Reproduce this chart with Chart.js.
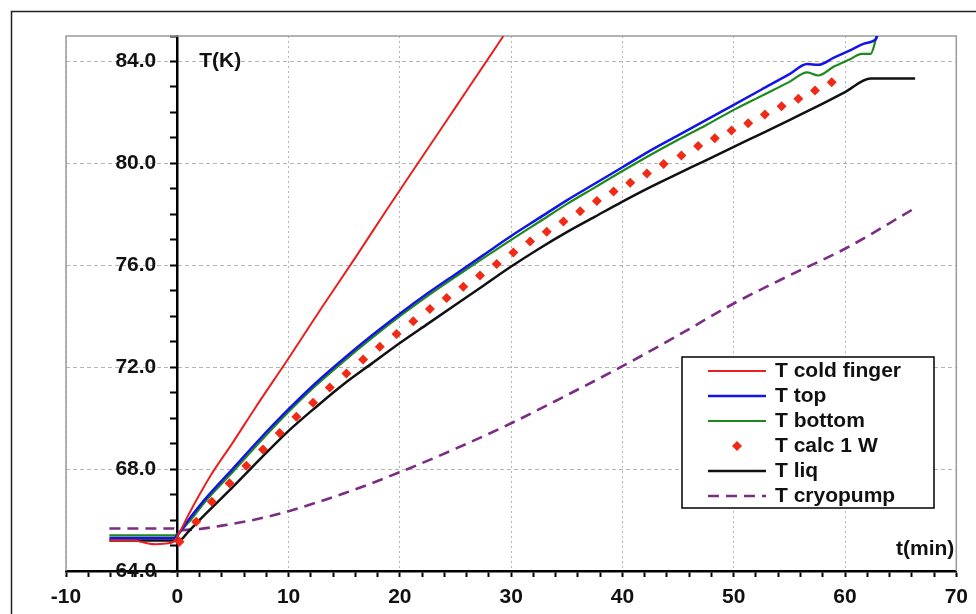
<!DOCTYPE html>
<html>
<head>
<meta charset="utf-8">
<script src="https://cdn.jsdelivr.net/npm/chart.js@4.4.1/dist/chart.umd.min.js"></script>
<style>
  html, body { margin: 0; padding: 0; background: #fff; }
  canvas { display: block; }
</style>
</head>
<body>
<canvas id="temp-chart" width="976" height="614"></canvas>
<script>
// tick labels
const xTicks = [-10, 0, 10, 20, 30, 40, 50, 60, 70];
const yTicks = [64, 68, 72, 76, 80, 84];

const seriesNames = ['T cold finger', 'T top', 'T bottom', 'T calc 1 W', 'T liq', 'T cryopump'];

// t (min) / T (K)
const fingerT = [-6.1, -4, -2.8, -2, -1, -0.3, 0, 1, 2, 3, 5, 7, 10, 13, 16, 19, 22, 25, 28, 29.3];
const fingerK = [65.2, 65.2, 65.1, 65.05, 65.08, 65.15, 65.35, 66.2, 67.0, 67.75, 69.05, 70.4, 72.35, 74.35, 76.3, 78.3, 80.25, 82.2, 84.15, 85.0];

const topT = [-6.1, -3, -0.3, 0, 1, 2.5, 5, 7.5, 10, 12.5, 15, 17.5, 20, 22.5, 25, 27.5, 30, 32.5, 35, 37.5, 40, 42.5, 45, 47.5, 50, 52.5, 55, 56.6, 57.6, 59, 60.5, 61.7, 62.5, 62.8, 63.1];
const topK = [65.3, 65.3, 65.3, 65.4, 66.0, 66.82, 68.02, 69.22, 70.35, 71.4, 72.35, 73.25, 74.1, 74.9, 75.65, 76.4, 77.15, 77.85, 78.55, 79.2, 79.85, 80.5, 81.1, 81.7, 82.3, 82.9, 83.5, 83.9, 83.87, 84.15, 84.45, 84.7, 84.8, 84.9, 85.3];

const bottomT = [-6.1, -0.3, 0, 1, 2.5, 5, 7.5, 10, 12.5, 15, 17.5, 20, 22.5, 25, 27.5, 30, 32.5, 35, 37.5, 40, 42.5, 45, 47.5, 50, 52.5, 55, 56.6, 57.6, 59, 60.5, 61.5, 62.3, 62.6, 62.9];
const bottomK = [65.4, 65.4, 65.45, 65.9, 66.72, 67.9, 69.1, 70.25, 71.3, 72.25, 73.15, 74.0, 74.8, 75.55, 76.28, 77.0, 77.7, 78.4, 79.05, 79.7, 80.33, 80.93, 81.5, 82.1, 82.65, 83.2, 83.57, 83.45, 83.8, 84.1, 84.3, 84.3, 84.6, 85.2];

const calcT = [0.2, 1.7, 3.1, 4.7, 6.2, 7.7, 9.2, 10.7, 12.2, 13.7, 15.2, 16.7, 18.2, 19.7, 21.2, 22.7, 24.2, 25.7, 27.2, 28.7, 30.2, 31.7, 33.2, 34.7, 36.2, 37.7, 39.2, 40.7, 42.2, 43.7, 45.3, 46.8, 48.3, 49.8, 51.3, 52.8, 54.3, 55.8, 57.3, 58.8];
const calcK = [65.15, 65.93, 66.72, 67.44, 68.13, 68.77, 69.42, 70.05, 70.6, 71.2, 71.75, 72.3, 72.8, 73.3, 73.8, 74.28, 74.72, 75.16, 75.6, 76.05, 76.5, 76.93, 77.32, 77.72, 78.12, 78.52, 78.9, 79.24, 79.6, 79.98, 80.31, 80.68, 80.99, 81.29, 81.58, 81.92, 82.24, 82.54, 82.86, 83.18];

const liqT = [-6.1, -0.3, 0.2, 1, 2.5, 5, 7.5, 10, 12.5, 15, 17.5, 20, 22.5, 25, 27.5, 30, 32.5, 35, 37.5, 40, 42.5, 45, 47.5, 50, 52.5, 55, 56.4, 58, 60, 62.3, 64, 66.3];
const liqK = [65.2, 65.2, 65.2, 65.55, 66.22, 67.3, 68.42, 69.5, 70.45, 71.35, 72.15, 72.95, 73.7, 74.45, 75.2, 75.95, 76.65, 77.3, 77.9, 78.5, 79.07, 79.6, 80.12, 80.65, 81.17, 81.7, 82.0, 82.35, 82.8, 83.33, 83.33, 83.33];

const cryoT = [-6.1, -0.3, 0, 2, 4, 6, 8, 10, 15, 20, 25, 30, 35, 40, 45, 50, 55, 60, 66.5];
const cryoK = [65.67, 65.67, 65.6, 65.65, 65.78, 65.93, 66.12, 66.35, 67.05, 67.88, 68.8, 69.8, 70.9, 72.04, 73.25, 74.5, 75.6, 76.65, 78.3];

const FONT = '"Liberation Sans", Arial, sans-serif';

function getColor(name){
    if(name === 'T cold finger'){
        return '#e82020'
    }
    if(name === 'T top'){
        return '#1414e6'
    }
    if(name === 'T bottom'){
        return '#1b8a1b'
    }
    if(name === 'T calc 1 W'){
        return '#f02a14'
    }
    if(name === 'T liq'){
        return '#111111'
    }
    return '#7b2d83'
}

function pairs(ts, ks){
    return ts.map((t, i) => ({ x: t, y: ks[i] }))
}

function lineSet(name, ts, ks, width, dash){
    return {
        label: name,
        data: pairs(ts, ks),
        showLine: true,
        borderColor: getColor(name),
        backgroundColor: getColor(name),
        borderWidth: width,
        borderDash: dash || [],
        pointRadius: 0,
        cubicInterpolationMode: 'monotone'
    }
}

// frame, plot box, axis titles and legend
const decorations = {
    id: 'decorations',
    beforeDraw(chart){
        const ctx = chart.ctx;
        ctx.save();
        ctx.fillStyle = '#fff';
        ctx.fillRect(0, 0, chart.width, chart.height);
        ctx.strokeStyle = '#222';
        ctx.lineWidth = 1.5;
        ctx.beginPath();
        ctx.moveTo(11.5, chart.height);
        ctx.lineTo(11.5, 11.5);
        ctx.lineTo(chart.width, 11.5);
        ctx.stroke();
        ctx.restore();
    },
    beforeDatasetsDraw(chart){
        const { ctx, chartArea: a } = chart;
        ctx.save();
        ctx.strokeStyle = '#9a9a9a';
        ctx.lineWidth = 1.5;
        ctx.beginPath();
        ctx.moveTo(a.left, a.bottom);
        ctx.lineTo(a.left, a.top);
        ctx.lineTo(a.right, a.top);
        ctx.lineTo(a.right, a.bottom);
        ctx.stroke();
        ctx.restore();
    },
    afterDraw(chart){
        const ctx = chart.ctx;
        const x = chart.scales.x, y = chart.scales.y;
        ctx.save();
        ctx.font = 'bold 21px ' + FONT;
        ctx.fillStyle = '#111';
        ctx.textBaseline = 'middle';
        ctx.textAlign = 'left';
        ctx.fillText('T(K)', x.getPixelForValue(0) + 22, y.getPixelForValue(84));
        ctx.textAlign = 'right';
        ctx.fillText('t(min)', x.right - 2, y.bottom - 22);

        // legend
        const box = { left: 682, top: 357, width: 252, height: 151 };
        ctx.fillStyle = '#fff';
        ctx.fillRect(box.left, box.top, box.width, box.height);
        ctx.strokeStyle = '#000';
        ctx.lineWidth = 1.5;
        ctx.strokeRect(box.left, box.top, box.width, box.height);
        ctx.textAlign = 'left';
        chart.data.datasets.forEach((ds, i) => {
            const ry = box.top + 14 + i * 25;
            if(ds.showLine){
                ctx.strokeStyle = ds.borderColor;
                ctx.lineWidth = ds.borderWidth;
                ctx.setLineDash(ds.borderDash);
                ctx.beginPath();
                ctx.moveTo(708, ry);
                ctx.lineTo(766, ry);
                ctx.stroke();
                ctx.setLineDash([]);
            } else {
                ctx.fillStyle = ds.backgroundColor;
                ctx.beginPath();
                ctx.moveTo(737, ry - 5);
                ctx.lineTo(742, ry);
                ctx.lineTo(737, ry + 5);
                ctx.lineTo(732, ry);
                ctx.closePath();
                ctx.fill();
            }
            ctx.fillStyle = '#111';
            ctx.fillText(ds.label, 775, ry);
        });
        ctx.restore();
    }
};

function main(){
    const canvas = document.querySelector('#temp-chart');
    Chart.defaults.font.family = FONT;
    Chart.defaults.font.size = 21;
    Chart.defaults.font.weight = 'bold';
    Chart.defaults.color = '#111';

    const datasets = [
        lineSet(seriesNames[0], fingerT, fingerK, 2),
        lineSet(seriesNames[1], topT, topK, 2.5),
        lineSet(seriesNames[2], bottomT, bottomK, 2.2),
        {
            label: seriesNames[3],
            data: pairs(calcT, calcK),
            showLine: false,
            pointStyle: 'rectRot',
            pointRadius: 5,
            pointBorderWidth: 0,
            backgroundColor: getColor(seriesNames[3]),
            borderColor: getColor(seriesNames[3])
        },
        lineSet(seriesNames[4], liqT, liqK, 2.5),
        lineSet(seriesNames[5], cryoT, cryoK, 2.6, [11, 7])
    ];

    new Chart(canvas.getContext('2d'), {
        type: 'scatter',
        data: { datasets: datasets },
        options: {
            responsive: false,
            animation: false,
            layout: { padding: { left: 66, right: 16, top: 36, bottom: 0 } },
            plugins: { legend: { display: false }, tooltip: { enabled: false } },
            scales: {
                x: {
                    type: 'linear',
                    min: -10,
                    max: 70,
                    afterFit: s => { s.height = 43 },
                    border: { color: '#000', width: 2.5, dash: [2, 3] },
                    grid: {
                        color: ctx => (ctx.tick && ctx.tick.value % 10 === 0) ? '#b5b5b5' : 'rgba(0,0,0,0)',
                        lineWidth: 1,
                        tickColor: '#000',
                        tickWidth: 2,
                        tickLength: 6
                    },
                    ticks: {
                        stepSize: 2,
                        autoSkip: false,
                        maxRotation: 0,
                        padding: 8,
                        callback: v => xTicks.includes(v) ? String(v) : ''
                    }
                },
                y: {
                    type: 'linear',
                    position: { x: 0 },
                    min: 64,
                    max: 85,
                    border: { color: '#000', width: 2.5, dash: [4, 3] },
                    grid: {
                        color: ctx => (ctx.tick && yTicks.includes(ctx.tick.value) && ctx.tick.value > 64) ? '#b5b5b5' : 'rgba(0,0,0,0)',
                        lineWidth: 1,
                        tickColor: '#000',
                        tickWidth: 2,
                        tickLength: 6
                    },
                    ticks: {
                        stepSize: 1,
                        autoSkip: false,
                        // en spaces keep the labels clear of the axis line
                        callback: v => yTicks.includes(v) ? v.toFixed(1) + '\u2002\u2002' : ''
                    }
                }
            }
        },
        plugins: [decorations]
    });
}

main()
</script>
</body>
</html>
